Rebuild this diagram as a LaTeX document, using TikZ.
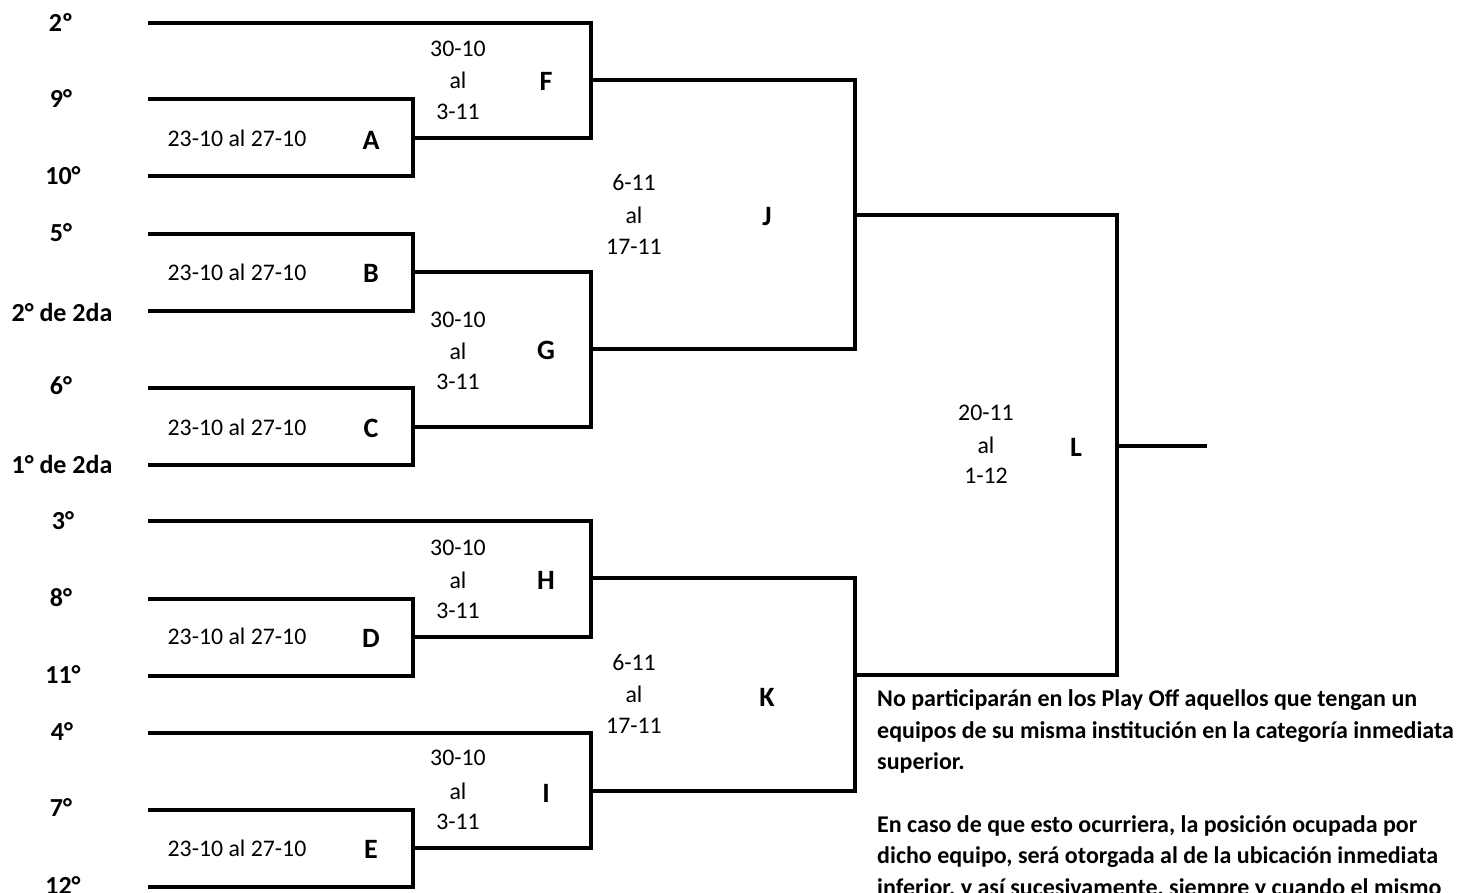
\documentclass[tikz,border=0pt]{standalone}
\usepackage{fontspec}
\setmainfont{Carlito}
\begin{document}
\begin{tikzpicture}[x=1pt,y=-1pt,
  br/.style={line width=3.2pt, line join=miter},
  seed/.style={font=\fontsize{26}{28}\selectfont\bfseries, inner sep=0pt},
  dates/.style={font=\fontsize{23.8}{26}\selectfont, inner sep=0pt},
  match/.style={font=\fontsize{28}{30}\selectfont\bfseries, inner sep=0pt},
  note/.style={font=\fontsize{24}{26}\selectfont\bfseries, inner sep=0pt, anchor=west}]
\useasboundingbox (0,0) rectangle (1457,893);
% seed line starts
\coordinate (s1) at (148,23);
\coordinate (s2) at (148,99);
\coordinate (s3) at (148,176);
\coordinate (s4) at (148,234);
\coordinate (s5) at (148,311);
\coordinate (s6) at (148,388);
\coordinate (s7) at (148,465);
\coordinate (s8) at (148,521);
\coordinate (s9) at (148,599);
\coordinate (s10) at (148,676);
\coordinate (s11) at (148,733);
\coordinate (s12) at (148,810);
\coordinate (s13) at (148,887);
% match junctions
\coordinate (mA) at (413,138);
\coordinate (mB) at (413,272);
\coordinate (mC) at (413,427);
\coordinate (mD) at (413,637);
\coordinate (mE) at (413,848);
\coordinate (mF) at (591,80);
\coordinate (mG) at (591,349);
\coordinate (mH) at (591,578);
\coordinate (mI) at (591,791);
\coordinate (mJ) at (855,215);
\coordinate (mK) at (855,675);
\coordinate (mL) at (1117,446);
\coordinate (fin) at (1207,446);
% brackets
\draw[br] (s2) -| (mA) |- (s3);
\draw[br] (s4) -| (mB) |- (s5);
\draw[br] (s6) -| (mC) |- (s7);
\draw[br] (s9) -| (mD) |- (s10);
\draw[br] (s12) -| (mE) |- (s13);
\draw[br] (s1) -| (mF) |- (mA);
\draw[br] (mB) -| (mG) |- (mC);
\draw[br] (s8) -| (mH) |- (mD);
\draw[br] (s11) -| (mI) |- (mE);
\draw[br] (mF) -| (mJ) |- (mG);
\draw[br] (mH) -| (mK) |- (mI);
\draw[br] (mJ) -| (mL) |- (mK);
\draw[br] (mL) -- (fin);
% seed labels
\node[seed] (l1) at (61,23) {2º};
\node[seed] (l2) at (61,99) {9°};
\node[seed] (l3) at (63,176) {10°};
\node[seed] (l4) at (61,233) {5°};
\node[seed] (l5) at (62,312) {2° de 2da};
\node[seed] (l6) at (61,386) {6°};
\node[seed] (l7) at (62,464) {1° de 2da};
\node[seed] (l8) at (63,521) {3°};
\node[seed] (l9) at (61,598) {8°};
\node[seed] (l10) at (63,675) {11°};
\node[seed] (l11) at (62,732) {4°};
\node[seed] (l12) at (61,808) {7°};
\node[seed] (l13) at (63,886) {12°};
% first round
\node[dates] (dA) at (237,138) {23-10 al 27-10};
\node[match] (tA) at (371,140) {A};
\node[dates] (dB) at (237,272) {23-10 al 27-10};
\node[match] (tB) at (371,273) {B};
\node[dates] (dC) at (237,427) {23-10 al 27-10};
\node[match] (tC) at (371,428) {C};
\node[dates] (dD) at (237,636) {23-10 al 27-10};
\node[match] (tD) at (371,638) {D};
\node[dates] (dE) at (237,848) {23-10 al 27-10};
\node[match] (tE) at (371,849) {E};
% second round
\node[dates] (dF1) at (458,49) {30-10};
\node[dates] (dF2) at (458,80) {al};
\node[dates] (dF3) at (458,112) {3-11};
\node[match] (tF) at (546,81) {F};
\node[dates] (dG1) at (458,320) {30-10};
\node[dates] (dG2) at (458,351) {al};
\node[dates] (dG3) at (458,382) {3-11};
\node[match] (tG) at (546,350) {G};
\node[dates] (dH1) at (458,548) {30-10};
\node[dates] (dH2) at (458,580) {al};
\node[dates] (dH3) at (458,611) {3-11};
\node[match] (tH) at (546,580) {H};
\node[dates] (dI1) at (458,758) {30-10};
\node[dates] (dI2) at (458,791) {al};
\node[dates] (dI3) at (458,822) {3-11};
\node[match] (tI) at (546,793) {I};
% semis
\node[dates] (dJ1) at (634,183) {6-11};
\node[dates] (dJ2) at (634,215) {al};
\node[dates] (dJ3) at (634,247) {17-11};
\node[match] (tJ) at (767,217) {J};
\node[dates] (dK1) at (634,663) {6-11};
\node[dates] (dK2) at (634,694) {al};
\node[dates] (dK3) at (634,726) {17-11};
\node[match] (tK) at (767,697) {K};
% final
\node[dates] (dL1) at (986,413) {20-11};
\node[dates] (dL2) at (986,445) {al};
\node[dates] (dL3) at (986,476) {1-12};
\node[match] (tL) at (1076,447) {L};
% note
\node[note] (n1) at (877,700) {No participarán en los Play Off aquellos que tengan un};
\node[note] (n2) at (877,732) {equipos de su misma institución en la categoría inmediata};
\node[note] (n3) at (877,763) {superior.};
\node[note] (n4) at (877,826) {En caso de que esto ocurriera, la posición ocupada por};
\node[note] (n5) at (877,857) {dicho equipo, será otorgada al de la ubicación inmediata};
\node[note] (n6) at (877,889) {inferior, y así sucesivamente, siempre y cuando el mismo};
\end{tikzpicture}
\end{document}
